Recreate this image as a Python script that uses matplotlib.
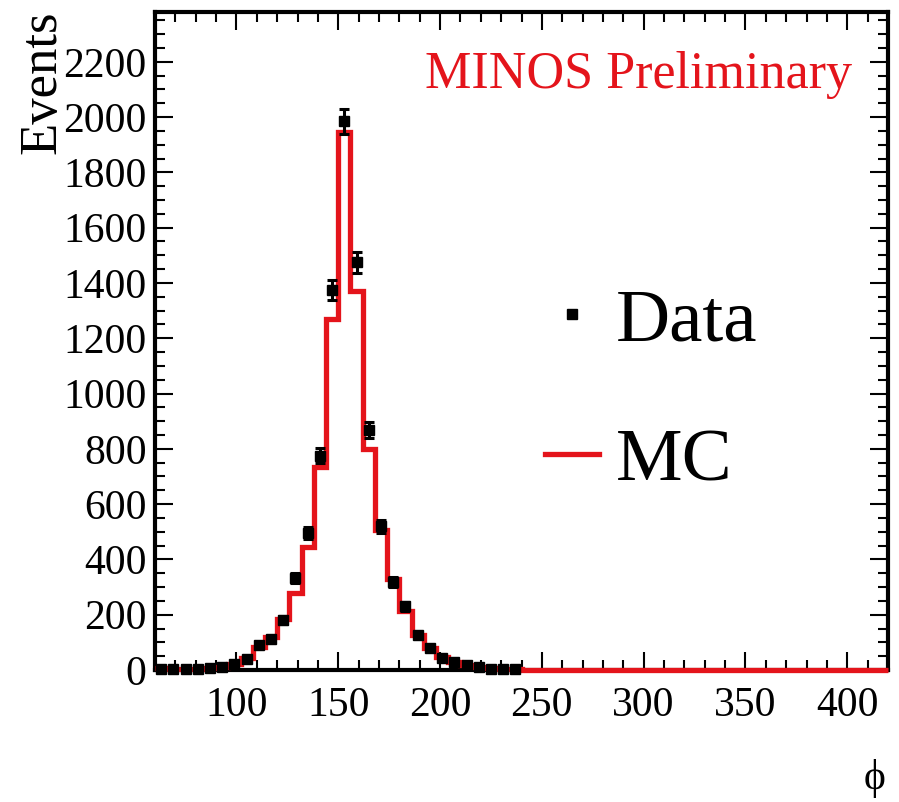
import numpy as np
import matplotlib
matplotlib.use("Agg")
import matplotlib.pyplot as plt
from matplotlib.lines import Line2D
from matplotlib.ticker import MultipleLocator

# Binning: 60 bins of width 6 from 60 to 420
bin_lo = 60
bin_hi = 420
bin_width = 6

# Monte Carlo prediction per bin (left edges 60, 66, ..., 414)
mc_counts = [8, 5, 4, 5, 8, 12, 22, 45, 85, 118,
             185, 280, 445, 735, 1268, 1945, 1370, 800, 505, 330,
             215, 125, 80, 47, 30, 18, 10, 6, 3, 2,
             0, 0, 0, 0, 0, 0, 0, 0, 0, 0,
             0, 0, 0, 0, 0, 0, 0, 0, 0, 0,
             0, 0, 0, 0, 0, 0, 0, 0, 0, 0]

# Measured data, bin centres 63 ... 237
data_counts = [5, 3, 3, 4, 7, 12, 20, 38, 92, 112,
               182, 333, 497, 775, 1375, 1985, 1475, 868, 520, 318,
               230, 125, 80, 45, 28, 18, 12, 5, 3, 3]
data_errors = [2, 2, 2, 2, 3, 4, 5, 7, 10, 11,
               14, 18, 22, 28, 37, 45, 38, 30, 23, 18,
               15, 11, 9, 7, 5, 4, 3, 2, 2, 2]

x_ticks = [100, 150, 200, 250, 300, 350, 400]
y_ticks = [0, 200, 400, 600, 800, 1000, 1200, 1400, 1600, 1800, 2000, 2200]

edges = np.arange(bin_lo, bin_hi + bin_width, bin_width)
centres = edges[:-1] + bin_width / 2
data_x = centres[:len(data_counts)]

SERIF = ["Liberation Serif", "DejaVu Serif"]
plt.rcParams["font.family"] = SERIF
plt.rcParams["mathtext.fontset"] = "stix"

W, H = 899, 802
fig = plt.figure(figsize=(W / 100, H / 100), dpi=100)
ax = fig.add_axes([155 / W, 1 - 670 / H, (888 - 155) / W, (670 - 12) / H])

red = "#e4141b"

# MC as a step histogram, drawn above the frame so the zero level shows
ax.stairs(mc_counts, edges, color=red, linewidth=3.8, baseline=None,
          zorder=4, clip_on=False)

# Data with error bars
ax.errorbar(data_x, data_counts, yerr=data_errors, fmt="s", color="black",
            markersize=7, elinewidth=2.2, capsize=3.5, capthick=2.2,
            zorder=5, clip_on=False)

ax.set_xlim(bin_lo, bin_hi)
ax.set_ylim(0, 2380)
ax.set_xticks(x_ticks)
ax.set_yticks(y_ticks)
ax.xaxis.set_minor_locator(MultipleLocator(10))
ax.yaxis.set_minor_locator(MultipleLocator(50))

for s in ax.spines.values():
    s.set_linewidth(3)

ax.tick_params(which="both", direction="in", top=True, right=True,
               width=1.5, colors="black")
ax.tick_params(which="major", length=13)
ax.tick_params(which="minor", length=7)
ax.tick_params(axis="x", which="major", labelsize=30, pad=12)
ax.tick_params(axis="y", which="major", labelsize=30, pad=6)

# Axis titles
fig.text(42 / W, 1 - 10 / H, "Events", rotation=90, ha="center", va="top",
         fontsize=38)
fig.text(875 / W, 1 - 778 / H, "ϕ", ha="center", va="center", fontsize=30)

# Label in the corner
ax.text(852 / W, 1 - 75 / H, "MINOS Preliminary", transform=fig.transFigure,
        ha="right", va="center", fontsize=37.5, color=red)

handles = [
    Line2D([], [], linestyle="none", marker="s", markersize=7.5, color="black"),
    Line2D([], [], color=red, linewidth=3.8),
]
ax.legend(handles, ["Data", "MC"], loc="upper left",
          bbox_to_anchor=(545 / W, 1 - 288 / H), bbox_transform=fig.transFigure,
          frameon=False, fontsize=54, handlelength=0.72, handletextpad=0.22,
          labelspacing=0.95, borderpad=0, borderaxespad=0)

fig.savefig("out.png", dpi=100)
